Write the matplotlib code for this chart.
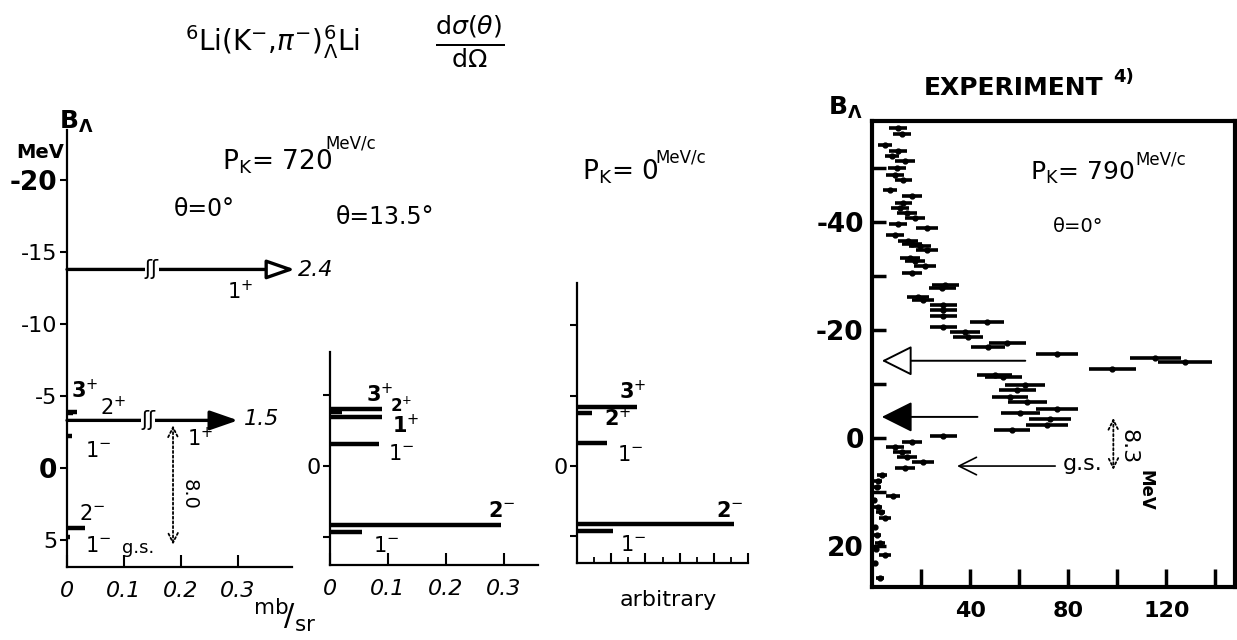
import numpy as np
import matplotlib
matplotlib.use('Agg')
import matplotlib.pyplot as plt

plt.rcParams['font.family'] = ['DejaVu Sans']
plt.rcParams['mathtext.fontset'] = 'dejavusans'

W, H = 1237, 640

# ------------------------------------------------------------------ data
# Panel A: P_K = 720 MeV/c, theta = 0 deg  (mb/sr)
a_B = [-13.8, -3.9, -3.8, -3.3, -2.2, 4.2, 4.8]
a_xs = [2.4, 0.018, 0.010, 1.5, 0.008, 0.032, 0.006]
a_jpi = ['1+', '3+', '2+', '1+', '1-', '2-', '1-']
a_xticks = [0, 0.1, 0.2, 0.3]
a_xticklabels = ['0', '0.1', '0.2', '0.3']
a_yticks = [-20, -15, -10, -5, 0, 5]
a_yticklabels = ['-20', '-15', '-10', '-5', '0', '5']

# Panel B: P_K = 720 MeV/c, theta = 13.5 deg (mb/sr)
b_B = [-4.0, -3.8, -3.4, -1.5, 4.2, 4.7]
b_xs = [0.09, 0.02, 0.09, 0.085, 0.295, 0.055]
b_jpi = ['3+', '2+', '1+', '1-', '2-', '1-']
b_xticks = [0, 0.1, 0.2, 0.3]
b_xticklabels = ['0', '0.1', '0.2', '0.3']
b_yticks = [-5, 0, 5]
b_yticklabels = ['', '0', '']

# Panel C: P_K = 0 MeV/c (arbitrary units)
c_B = [-4.2, -3.75, -1.6, 4.15, 4.65]
c_xs = [0.35, 0.09, 0.175, 0.92, 0.21]
c_jpi = ['3+', '2+', '1-', '2-', '1-']
c_yticks = [-10, -5, 0, 5]
c_yticklabels = ['', '', '0', '']

# Experiment: P_K = 790 MeV/c, theta = 0 deg  (counts vs B_Lambda)
exp_counts = [10.6, 12.2, 5.3, 10.6, 8.2, 13.5, 10.2, 9.4, 12.7, 7.3,
              16.3, 12.7, 11.4, 14.3, 17.6, 10.6, 22.4, 9.4, 14.7, 16.3,
              19.6, 22.4, 15.5, 17.6, 21.6, 16.3, 29.8, 28.6, 18.8, 20.8,
              29.0, 29.0, 29.0, 29.0, 46.9, 38.0, 39.2, 55.1, 47.3, 75.5,
              115.5, 127.8, 98.0, 53.5, 50.0, 62.4, 59.2, 56.3, 63.3, 75.5,
              60.4, 72.7, 71.4, 57.1, 29.0, 16.3, 9.4, 12.2, 14.3, 20.8,
              13.5, 4.1, 2.5, 2.0, 8.6, 1.0, 2.4, 3.5, 5.3, 1.2,
              2.0, 3.3, 1.5, 5.3, 1.2, 3.3]
exp_B = [-57.4, -56.3, -54.3, -53.1, -52.2, -51.3, -50.0, -48.7, -47.8, -45.9,
         -44.8, -43.5, -42.6, -41.7, -40.7, -39.6, -38.9, -37.6, -36.5, -35.9,
         -35.6, -34.8, -33.3, -32.8, -31.9, -30.6, -28.3, -27.8, -26.1, -25.6,
         -24.6, -23.7, -22.6, -20.6, -21.5, -19.6, -18.7, -17.6, -16.9, -15.6,
         -14.8, -14.1, -12.8, -11.3, -11.7, -9.8, -8.9, -7.6, -6.7, -5.4,
         -4.6, -3.5, -2.4, -1.5, -0.4, 0.7, 1.7, 2.6, 3.5, 4.4,
         5.6, 6.9, 8.0, 9.1, 10.7, 11.5, 12.8, 13.8, 14.8, 16.5,
         18.0, 19.4, 20.5, 21.7, 23.1, 25.9]
exp_err = [3.5, 3.5, 3.0, 3.5, 3.0, 4.0, 3.5, 3.5, 3.5, 3.0,
           4.0, 3.5, 3.5, 4.0, 4.0, 3.5, 4.5, 3.5, 4.0, 4.0,
           4.5, 4.5, 4.0, 4.0, 4.5, 4.0, 5.5, 5.5, 4.5, 4.5,
           5.5, 5.5, 5.5, 5.5, 7.0, 6.0, 6.0, 7.5, 7.0, 8.5,
           10.5, 11.0, 9.5, 7.5, 7.0, 8.0, 7.5, 7.5, 8.0, 8.5,
           8.0, 8.5, 8.5, 7.5, 5.5, 4.0, 3.5, 3.5, 4.0, 4.5,
           4.0, 2.0, 1.5, 1.5, 3.0, 1.0, 1.5, 2.0, 2.5, 1.0,
           1.5, 2.0, 1.0, 2.5, 1.0, 1.5]
exp_xticks = [20, 40, 60, 80, 100, 120, 140]
exp_xticklabels = ['', '40', '', '80', '', '120', '']
exp_yticks = [-50, -40, -30, -20, -10, 0, 10, 20]
exp_yticklabels = ['', '-40', '', '-20', '', '0', '', '20']

# predicted 1+ peaks marked on the experimental spectrum
exp_arrow_B = [-14.3, -3.9, 5.2]

# ------------------------------------------------------------------ helpers
fig = plt.figure(figsize=(W / 100, H / 100), dpi=100)


def rect(x0, y0, x1, y1):
    return [x0 / W, 1 - y1 / H, (x1 - x0) / W, (y1 - y0) / H]


def ft(x, y, s, **kw):
    kw.setdefault('ha', 'center')
    kw.setdefault('va', 'center')
    fig.text(x / W, 1 - y / H, s, **kw)


def jp(s):
    return s[0] + r'$^{' + ('+' if s[1] == '+' else '-') + r'}$'


def level_axes(ax, xlim, ylim, xend, yticks, yticklabels):
    ax.set_facecolor('none')
    ax.set_xlim(*xlim)
    ax.set_ylim(*ylim)
    for s in ('top', 'right'):
        ax.spines[s].set_visible(False)
    ax.spines['bottom'].set_bounds(0, xend)
    for s in ('left', 'bottom'):
        ax.spines[s].set_linewidth(1.6)
    ax.set_yticks(yticks)
    ax.set_yticklabels(yticklabels, fontsize=16)
    ax.tick_params(axis='y', direction='out', length=5, width=1.5, pad=2)
    ax.tick_params(axis='x', direction='in', length=9, width=1.5, pad=10)


LW = 3.2

# ------------------------------------------------------------------ panel A
ax1 = fig.add_axes(rect(67, 130, 330, 567))
level_axes(ax1, (0, 263 / 570), (6.9, -23.5), 0.395, a_yticks, a_yticklabels)
ax1.set_xticks(a_xticks)
ax1.set_xticklabels(a_xticklabels, fontsize=16, style='italic')
for lab in ax1.get_yticklabels():
    if lab.get_text() in ('-20', '0'):
        lab.set_fontsize(19)
        lab.set_fontweight('bold')

# off-scale cross sections are drawn as broken arrows
offscale_end = {2.4: 0.40, 1.5: 0.30}
offscale_face = {2.4: 'white', 1.5: 'black'}
offscale_break = {2.4: 0.149, 1.5: 0.142}
for B, v in zip(a_B, a_xs):
    if v in offscale_end:
        ax1.annotate('', xy=(offscale_end[v], B), xytext=(0, B),
                     arrowprops=dict(arrowstyle='-|>,head_length=0.95,head_width=0.33',
                                     fc=offscale_face[v], ec='k', lw=2.4,
                                     mutation_scale=18, shrinkA=0, shrinkB=0))
        xb = offscale_break[v]
        ax1.plot([xb - 0.012, xb + 0.012], [B, B], color='white', lw=6,
                 solid_capstyle='butt', zorder=4)
        ax1.text(xb, B, 'ʃʃ', fontsize=15, ha='center', va='center', zorder=5)
    else:
        ax1.hlines(B, 0, v, color='k', lw=LW)

ax1.annotate('', xy=(0.186, 5.35), xytext=(0.186, -2.95),
             arrowprops=dict(arrowstyle='<->,head_length=0.5,head_width=0.25',
                             lw=1.3, ls=(0, (1.2, 1.4)), color='k',
                             shrinkA=0, shrinkB=0, mutation_scale=14))

ft(240, 291, jp('1+'), fontsize=15)
ft(316, 270, '2.4', fontsize=16, style='italic')
ft(200, 438, jp('1+'), fontsize=15)
ft(262, 419, '1.5', fontsize=16, style='italic')
ft(85, 390, jp('3+'), fontsize=15, fontweight='bold')
ft(113, 407, jp('2+'), fontsize=15)
ft(98, 451, jp('1-'), fontsize=15)
ft(92, 514, jp('2-'), fontsize=15)
ft(98, 546, jp('1-'), fontsize=15)
ft(138, 548, 'g.s.', fontsize=13)
ft(189, 494, '8.0', fontsize=14, rotation=-90)
ft(76, 122, r'$\mathbf{B}_{\mathbf{\Lambda}}$', fontsize=18)
ft(40, 153, 'MeV', fontsize=14, fontweight='bold')
ft(222, 162, r'P$_{\mathrm{K}}$= 720', fontsize=19, ha='left')
ft(325, 144, 'MeV/c', fontsize=12, ha='left')
ft(204, 209, 'θ=0°', fontsize=17)
ft(285, 615, r'$\mathrm{^{mb}\!/_{sr}}$', fontsize=22)

# ------------------------------------------------------------------ panel B
ax2 = fig.add_axes(rect(330, 352, 545, 565))
level_axes(ax2, (0, 215 / 580), (7.0, -8.0), 0.359, b_yticks, b_yticklabels)
ax2.set_xticks(b_xticks)
ax2.set_xticklabels(b_xticklabels, fontsize=16, style='italic')
ax2.hlines(b_B, 0, b_xs, color='k', lw=LW)
ft(385, 217, 'θ=13.5°', fontsize=17)
ft(380, 394, jp('3+'), fontsize=15, fontweight='bold')
ft(401, 406, jp('2+'), fontsize=12, fontweight='bold')
ft(406, 425, jp('1+'), fontsize=15, fontweight='bold')
ft(401, 454, jp('1-'), fontsize=15)
ft(502, 511, jp('2-'), fontsize=15, fontweight='bold')
ft(386, 546, jp('1-'), fontsize=15)

# ------------------------------------------------------------------ panel C
ax3 = fig.add_axes(rect(577, 283, 755, 563))
level_axes(ax3, (0, 178 / 171), (6.9, -13.0), 1.0, c_yticks, c_yticklabels)
ax3.set_xticks([0.2, 0.4, 0.6, 0.8, 1.0])
ax3.set_xticks([0.1, 0.3, 0.5, 0.7, 0.9], minor=True)
ax3.set_xticklabels([])
ax3.tick_params(axis='x', which='major', length=7)
ax3.tick_params(axis='x', which='minor', direction='in', length=4, width=1.3)
ax3.hlines(c_B, 0, c_xs, color='k', lw=LW)
ft(633, 391, jp('3+'), fontsize=15, fontweight='bold')
ft(618, 418, jp('2+'), fontsize=15, fontweight='bold')
ft(630, 455, jp('1-'), fontsize=15)
ft(730, 511, jp('2-'), fontsize=15, fontweight='bold')
ft(633, 545, jp('1-'), fontsize=15)
ft(668, 600, 'arbitrary', fontsize=16)
ft(582, 172, r'P$_{\mathrm{K}}$= 0', fontsize=19, ha='left')
ft(655, 157, 'MeV/c', fontsize=12, ha='left')

# ------------------------------------------------------------------ experiment
ax4 = fig.add_axes(rect(872, 121, 1235, 587))
ax4.set_xlim(0, 148)
ax4.set_ylim(27.6, -58.7)
for s in ax4.spines.values():
    s.set_linewidth(3)
ax4.errorbar(exp_counts, exp_B, xerr=exp_err, fmt='o', ms=3.5, color='k',
             elinewidth=2.6, capsize=0)
ax4.set_xticks(exp_xticks)
ax4.set_xticklabels(exp_xticklabels, fontsize=16, fontweight='bold')
ax4.set_yticks(exp_yticks)
ax4.set_yticklabels(exp_yticklabels, fontsize=19, fontweight='bold')
ax4.tick_params(axis='x', direction='in', length=13, width=2.5, pad=10)
ax4.tick_params(axis='y', direction='in', length=10, width=2.5, pad=6)

ax4.annotate('', xy=(4, exp_arrow_B[0]), xytext=(62.5, exp_arrow_B[0]),
             arrowprops=dict(arrowstyle='-|>,head_length=0.8,head_width=0.4',
                             fc='white', ec='k', lw=1.4, mutation_scale=24,
                             shrinkA=0, shrinkB=0))
ax4.annotate('', xy=(4, exp_arrow_B[1]), xytext=(43, exp_arrow_B[1]),
             arrowprops=dict(arrowstyle='-|>,head_length=0.8,head_width=0.4',
                             fc='black', ec='k', lw=1.4, mutation_scale=24,
                             shrinkA=0, shrinkB=0))
ax4.annotate('', xy=(34.7, exp_arrow_B[2]), xytext=(74.7, exp_arrow_B[2]),
             arrowprops=dict(arrowstyle='->,head_length=0.7,head_width=0.35',
                             ec='k', lw=1.2, mutation_scale=18,
                             shrinkA=0, shrinkB=0))
ax4.annotate('', xy=(98.4, 5.9), xytext=(98.4, -3.7),
             arrowprops=dict(arrowstyle='<->,head_length=0.5,head_width=0.25',
                             lw=1.3, ls=(0, (1.2, 1.4)), color='k',
                             shrinkA=0, shrinkB=0, mutation_scale=14))
ft(1083, 464, 'g.s.', fontsize=16)
ft(1129, 447, '8.3', fontsize=16, rotation=-90)
ft(1145, 490, 'MeV', fontsize=12, fontweight='bold', rotation=-90)

ft(1014, 88, 'EXPERIMENT', fontsize=18, fontweight='bold')
ft(1124, 77, '4)', fontsize=13, fontweight='bold')
ft(845, 108, r'$\mathbf{B}_{\mathbf{\Lambda}}$', fontsize=18)
ft(1030, 173, r'P$_{\mathrm{K}}$= 790', fontsize=18, ha='left')
ft(1135, 160, 'MeV/c', fontsize=12, ha='left')
ft(1078, 227, 'θ=0°', fontsize=14)

# ------------------------------------------------------------------ titles
ft(272, 42, r'$^{6}$Li(K$^{-}$,$\pi^{-}$)$^{6}_{\Lambda}$Li', fontsize=20)
ft(470, 42, r'$\frac{\mathrm{d}\sigma(\theta)}{\mathrm{d}\Omega}$', fontsize=26)

fig.savefig('out.png', dpi=100)
